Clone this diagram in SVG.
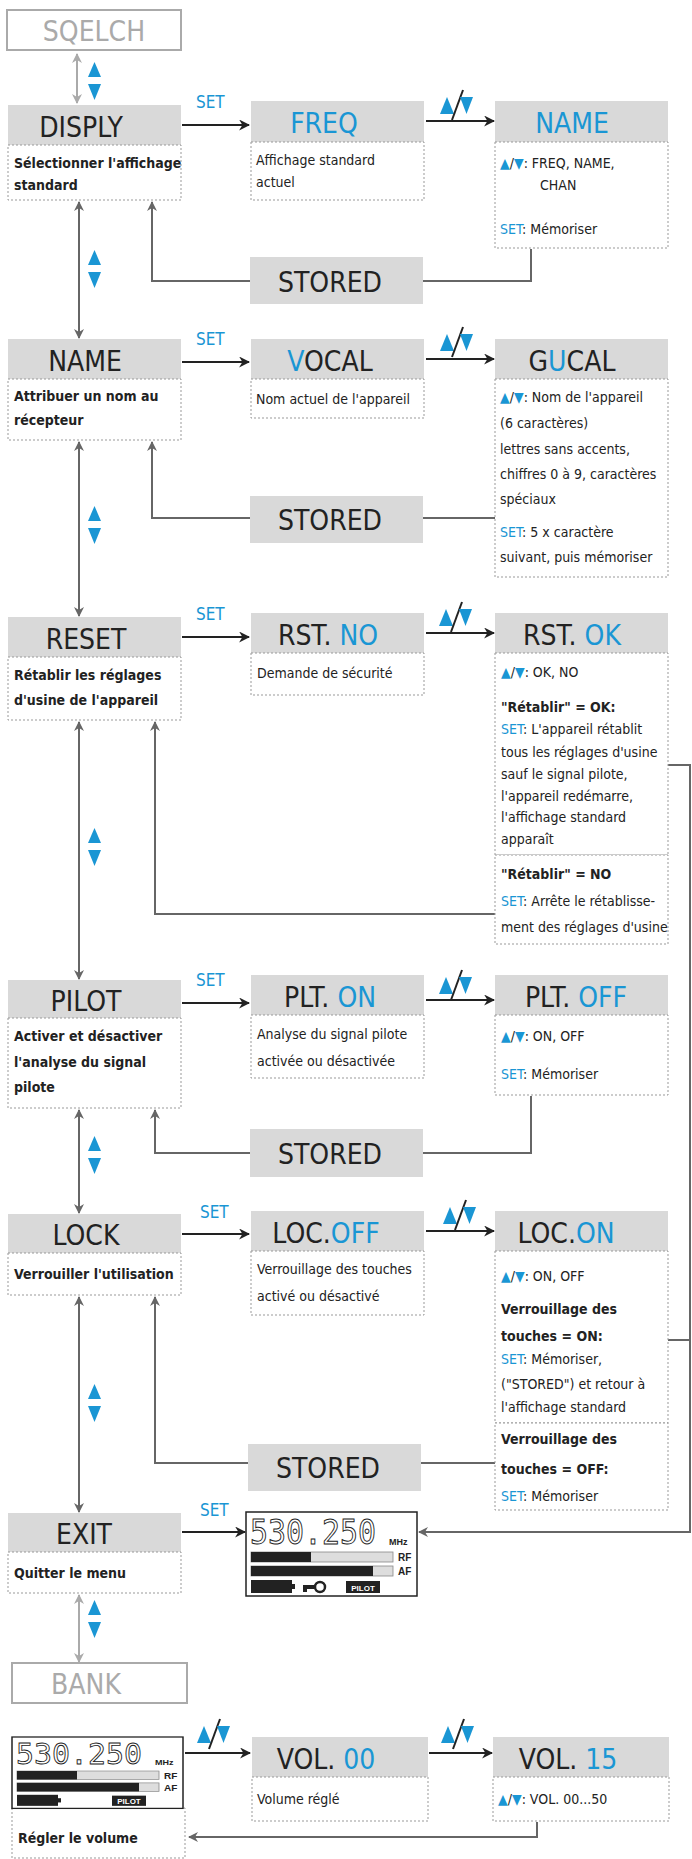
<svg xmlns="http://www.w3.org/2000/svg" width="692" height="1859" viewBox="0 0 692 1859">
<style>
.h{fill:#d9d9d9}
.d{fill:#fff;stroke:#999;stroke-width:1;stroke-dasharray:2 2}
.o{fill:#fff;stroke:#aaa;stroke-width:2}
.ht{font-family:"DejaVu Sans Condensed","Liberation Sans Narrow","Liberation Sans",sans-serif;font-weight:300;font-size:28px;fill:#222;text-anchor:middle}
.gt{fill:#aaa}
.b{fill:#1a96d4}
.t{font-family:"DejaVu Sans Condensed","Liberation Sans Narrow","Liberation Sans",sans-serif;font-size:14px;fill:#222}
.tb{font-weight:bold}
.set{font-family:"DejaVu Sans Condensed","Liberation Sans",sans-serif;font-size:17px;fill:#1a96d4}
.c{fill:none;stroke:#666;stroke-width:2}
.k{fill:none;stroke:#222;stroke-width:2.2}
.cg{fill:none;stroke:#aaa;stroke-width:2}
</style>
<defs>
<marker id="ak" viewBox="0 0 10 10" refX="9" refY="5" markerWidth="5" markerHeight="5" orient="auto"><path d="M0,0 L10,5 L0,10 L3,5z" fill="#222"/></marker>
<marker id="ag" viewBox="0 0 10 10" refX="9" refY="5" markerWidth="5" markerHeight="5" orient="auto-start-reverse"><path d="M0,0 L10,5 L0,10 L3,5z" fill="#666"/></marker>
<marker id="al" viewBox="0 0 10 10" refX="9" refY="5" markerWidth="5" markerHeight="5" orient="auto-start-reverse"><path d="M0,0 L10,5 L0,10 L3,5z" fill="#aaa"/></marker>
<g id="ud"><polygon points="0,15 6.5,0 13,15" fill="#1a96d4"/><polygon points="0,22 13,22 6.5,38" fill="#1a96d4"/></g>
<g id="sl"><polygon points="0,20 7,3 14,20" fill="#1a96d4"/><line x1="12" y1="26" x2="23" y2="-4" stroke="#222" stroke-width="2"/><polygon points="20,3 33,3 26.5,20" fill="#1a96d4"/></g>
<g id="lcd">
<rect x="0" y="0" width="171" height="84" fill="#fff" stroke="#222" stroke-width="1.5"/>
<text x="4" y="32" font-family="DejaVu Sans Mono,monospace" font-size="34" fill="#fff" stroke="#222" stroke-width="1" textLength="126" lengthAdjust="spacingAndGlyphs">530.250</text>
<text x="143" y="33" font-family="Liberation Sans,sans-serif" font-size="9" font-weight="bold" fill="#222">MHz</text>
<rect x="5" y="40" width="142" height="10" fill="#ddd" stroke="#888" stroke-width=".8"/><rect x="5" y="40" width="60" height="10" fill="#222"/>
<rect x="5" y="54" width="142" height="10" fill="#ddd" stroke="#888" stroke-width=".8"/><rect x="5" y="54" width="122" height="10" fill="#222"/>
<text x="152" y="49" font-family="Liberation Sans,sans-serif" font-size="10" font-weight="bold" fill="#222">RF</text>
<text x="152" y="63" font-family="Liberation Sans,sans-serif" font-size="10" font-weight="bold" fill="#222">AF</text>
<rect x="5" y="68" width="41" height="13" fill="#222"/><rect x="46" y="72" width="3" height="5" fill="#222"/>
<rect x="100" y="69" width="34" height="12" fill="#222"/>
<text x="117" y="79" font-family="Liberation Sans,sans-serif" font-size="8" font-weight="bold" fill="#fff" text-anchor="middle">PILOT</text>
</g>
</defs>

<g id="connectors">
<line class="cg" x1="77" y1="54" x2="77" y2="103" marker-start="url(#al)" marker-end="url(#al)"/>
<line class="c" x1="79" y1="202" x2="79" y2="338" marker-start="url(#ag)" marker-end="url(#ag)"/>
<line class="c" x1="79" y1="442" x2="79" y2="616" marker-start="url(#ag)" marker-end="url(#ag)"/>
<line class="c" x1="79" y1="722" x2="79" y2="979" marker-start="url(#ag)" marker-end="url(#ag)"/>
<line class="c" x1="79" y1="1110" x2="79" y2="1213" marker-start="url(#ag)" marker-end="url(#ag)"/>
<line class="c" x1="79" y1="1297" x2="79" y2="1512" marker-start="url(#ag)" marker-end="url(#ag)"/>
<line class="cg" x1="79" y1="1595" x2="79" y2="1662" marker-start="url(#al)" marker-end="url(#al)"/>
<line class="k" x1="182" y1="125" x2="249" y2="125" marker-end="url(#ak)"/>
<line class="k" x1="426" y1="121" x2="494" y2="121" marker-end="url(#ak)"/>
<line class="k" x1="182" y1="362" x2="249" y2="362" marker-end="url(#ak)"/>
<line class="k" x1="426" y1="359" x2="494" y2="359" marker-end="url(#ak)"/>
<line class="k" x1="182" y1="637" x2="249" y2="637" marker-end="url(#ak)"/>
<line class="k" x1="426" y1="633" x2="494" y2="633" marker-end="url(#ak)"/>
<line class="k" x1="182" y1="1003" x2="249" y2="1003" marker-end="url(#ak)"/>
<line class="k" x1="426" y1="1000" x2="494" y2="1000" marker-end="url(#ak)"/>
<line class="k" x1="182" y1="1234" x2="249" y2="1234" marker-end="url(#ak)"/>
<line class="k" x1="426" y1="1231" x2="494" y2="1231" marker-end="url(#ak)"/>
<line class="k" x1="182" y1="1532" x2="245" y2="1532" marker-end="url(#ak)"/>
<line class="k" x1="185" y1="1753" x2="250" y2="1753" marker-end="url(#ak)"/>
<line class="k" x1="429" y1="1753" x2="492" y2="1753" marker-end="url(#ak)"/>
<path class="c" d="M250,281 H152 V202" marker-end="url(#ag)"/>
<path class="c" d="M423,281 H531 V249"/>
<path class="c" d="M250,518 H152 V442" marker-end="url(#ag)"/>
<path class="c" d="M423,518 H495"/>
<path class="c" d="M495,914 H155 V722" marker-end="url(#ag)"/>
<path class="c" d="M250,1153 H155 V1110" marker-end="url(#ag)"/>
<path class="c" d="M423,1153 H531 V1096"/>
<path class="c" d="M248,1463 H155 V1297" marker-end="url(#ag)"/>
<path class="c" d="M421,1463 H495"/>
<path class="c" d="M668,765 H690 V1532 H419" marker-end="url(#ag)"/>
<path class="c" d="M668,1340 H690"/>
<path class="c" d="M537,1822 V1837 H189" marker-end="url(#ag)"/>
</g>

<use href="#ud" x="88" y="62"/>
<use href="#ud" x="88" y="250"/>
<use href="#ud" x="88" y="506"/>
<use href="#ud" x="88" y="828"/>
<use href="#ud" x="88" y="1136"/>
<use href="#ud" x="88" y="1384"/>
<use href="#ud" x="88" y="1600"/>
<g><text class="set" x="196" y="108">SET</text><text class="set" x="196" y="345">SET</text><text class="set" x="196" y="620">SET</text><text class="set" x="196" y="986">SET</text><text class="set" x="200" y="1218">SET</text><text class="set" x="200" y="1516">SET</text></g>
<use href="#sl" x="440" y="94"/>
<use href="#sl" x="440" y="331"/>
<use href="#sl" x="439" y="606"/>
<use href="#sl" x="439" y="974"/>
<use href="#sl" x="443" y="1204"/>
<use href="#sl" x="197" y="1723"/>
<use href="#sl" x="441" y="1723"/>

<g id="sqelch"><rect class="o" x="7" y="10" width="174" height="40"/><text class="ht gt" x="94" y="41">SQELCH</text></g>

<g id="disply"><rect class="h" x="8" y="105" width="173" height="40"/><text class="ht" x="81" y="137">DISPLY</text><rect class="d" x="8" y="145" width="173" height="55"/><text class="t tb" x="14" y="168">Sélectionner l'affichage</text><text class="t tb" x="14" y="190">standard</text></g>
<g id="freq"><rect class="h" x="251" y="101" width="173" height="41"/><text class="ht b" x="324" y="133">FREQ</text><rect class="d" x="251" y="142" width="173" height="58"/><text class="t" x="256" y="165">Affichage standard</text><text class="t" x="256" y="187">actuel</text></g>
<g id="name-opt"><rect class="h" x="495" y="101" width="173" height="41"/><text class="ht b" x="572" y="133">NAME</text><rect class="d" x="495" y="142" width="173" height="106"/>
<text class="t" x="500" y="168"><tspan class="b">▲</tspan>/<tspan class="b">▼</tspan>: FREQ, NAME,</text><text class="t" x="540" y="190">CHAN</text><text class="t" x="500" y="234"><tspan class="b">SET</tspan>: Mémoriser</text></g>
<g id="stored1"><rect class="h" x="250" y="257" width="173" height="47"/><text class="ht" x="330" y="292">STORED</text></g>

<g id="name"><rect class="h" x="8" y="339" width="173" height="40"/><text class="ht" x="85" y="371">NAME</text><rect class="d" x="8" y="379" width="173" height="61"/><text class="t tb" x="14" y="401">Attribuer un nom au</text><text class="t tb" x="14" y="425">récepteur</text></g>
<g id="vocal"><rect class="h" x="251" y="339" width="173" height="40"/><text class="ht" x="330" y="371"><tspan class="b">V</tspan>OCAL</text><rect class="d" x="251" y="379" width="173" height="39"/><text class="t" x="256" y="404">Nom actuel de l'appareil</text></g>
<g id="gucal"><rect class="h" x="495" y="339" width="173" height="40"/><text class="ht" x="572" y="371">G<tspan class="b">U</tspan>CAL</text><rect class="d" x="495" y="379" width="173" height="198"/>
<text class="t" x="500" y="402"><tspan class="b">▲</tspan>/<tspan class="b">▼</tspan>: Nom de l'appareil</text><text class="t" x="500" y="428">(6 caractères)</text><text class="t" x="500" y="454">lettres sans accents,</text><text class="t" x="500" y="479">chiffres 0 à 9, caractères</text><text class="t" x="500" y="504">spéciaux</text><text class="t" x="500" y="537"><tspan class="b">SET</tspan>: 5 x caractère</text><text class="t" x="500" y="562">suivant, puis mémoriser</text></g>
<g id="stored2"><rect class="h" x="250" y="496" width="173" height="47"/><text class="ht" x="330" y="530">STORED</text></g>

<g id="reset"><rect class="h" x="8" y="617" width="173" height="40"/><text class="ht" x="86" y="649">RESET</text><rect class="d" x="8" y="657" width="173" height="63"/><text class="t tb" x="14" y="680">Rétablir les réglages</text><text class="t tb" x="14" y="705">d'usine de l'appareil</text></g>
<g id="rstno"><rect class="h" x="251" y="613" width="173" height="40"/><text class="ht" x="328" y="645">RST. <tspan class="b">NO</tspan></text><rect class="d" x="251" y="653" width="173" height="42"/><text class="t" x="257" y="678">Demande de sécurité</text></g>
<g id="rstok"><rect class="h" x="495" y="613" width="173" height="40"/><text class="ht" x="572" y="645">RST. <tspan class="b">OK</tspan></text><rect class="d" x="495" y="653" width="173" height="202"/><rect class="d" x="495" y="855" width="173" height="89"/>
<text class="t" x="501" y="677"><tspan class="b">▲</tspan>/<tspan class="b">▼</tspan>: OK, NO</text><text class="t tb" x="501" y="712">"Rétablir" = OK:</text><text class="t" x="501" y="734"><tspan class="b">SET</tspan>: L'appareil rétablit</text><text class="t" x="501" y="757">tous les réglages d'usine</text><text class="t" x="501" y="779">sauf le signal pilote,</text><text class="t" x="501" y="801">l'appareil redémarre,</text><text class="t" x="501" y="822">l'affichage standard</text><text class="t" x="501" y="844">apparaît</text>
<text class="t tb" x="501" y="879">"Rétablir" = NO</text><text class="t" x="501" y="906"><tspan class="b">SET</tspan>:  Arrête le rétablisse-</text><text class="t" x="501" y="932">ment des réglages d'usine</text></g>

<g id="pilot"><rect class="h" x="8" y="980" width="173" height="38"/><text class="ht" x="86" y="1011">PILOT</text><rect class="d" x="8" y="1018" width="173" height="90"/><text class="t tb" x="14" y="1041">Activer et désactiver</text><text class="t tb" x="14" y="1067">l'analyse du signal</text><text class="t tb" x="14" y="1092">pilote</text></g>
<g id="plton"><rect class="h" x="251" y="975" width="173" height="40"/><text class="ht" x="330" y="1007">PLT.  <tspan class="b">ON</tspan></text><rect class="d" x="251" y="1015" width="173" height="63"/><text class="t" x="257" y="1039">Analyse du signal pilote</text><text class="t" x="257" y="1066">activée ou désactivée</text></g>
<g id="pltoff"><rect class="h" x="495" y="975" width="173" height="40"/><text class="ht" x="576" y="1007">PLT.  <tspan class="b">OFF</tspan></text><rect class="d" x="495" y="1015" width="173" height="80"/><text class="t" x="501" y="1041"><tspan class="b">▲</tspan>/<tspan class="b">▼</tspan>: ON, OFF</text><text class="t" x="501" y="1079"><tspan class="b">SET</tspan>: Mémoriser</text></g>
<g id="stored3"><rect class="h" x="250" y="1129" width="173" height="48"/><text class="ht" x="330" y="1164">STORED</text></g>

<g id="lock"><rect class="h" x="8" y="1214" width="173" height="39"/><text class="ht" x="86" y="1245">LOCK</text><rect class="d" x="8" y="1253" width="173" height="42"/><text class="t tb" x="14" y="1279">Verrouiller l'utilisation</text></g>
<g id="locoff"><rect class="h" x="251" y="1211" width="173" height="40"/><text class="ht" x="326" y="1243">LOC.<tspan class="b">OFF</tspan></text><rect class="d" x="251" y="1251" width="173" height="64"/><text class="t" x="257" y="1274">Verrouillage des touches</text><text class="t" x="257" y="1301">activé ou désactivé</text></g>
<g id="locon"><rect class="h" x="495" y="1211" width="173" height="40"/><text class="ht" x="566" y="1243">LOC.<tspan class="b">ON</tspan></text><rect class="d" x="495" y="1251" width="173" height="172"/><rect class="d" x="495" y="1423" width="173" height="87"/>
<text class="t" x="501" y="1281"><tspan class="b">▲</tspan>/<tspan class="b">▼</tspan>: ON, OFF</text><text class="t tb" x="501" y="1314">Verrouillage des</text><text class="t tb" x="501" y="1341">touches = ON:</text><text class="t" x="501" y="1364"><tspan class="b">SET</tspan>: Mémoriser,</text><text class="t" x="501" y="1389">("STORED") et retour à</text><text class="t" x="501" y="1412">l'affichage standard</text>
<text class="t tb" x="501" y="1444">Verrouillage des</text><text class="t tb" x="501" y="1474">touches = OFF:</text><text class="t" x="501" y="1501"><tspan class="b">SET</tspan>: Mémoriser</text></g>
<g id="stored4"><rect class="h" x="248" y="1444" width="173" height="47"/><text class="ht" x="328" y="1478">STORED</text></g>

<g id="exit"><rect class="h" x="8" y="1513" width="173" height="39"/><text class="ht" x="84" y="1544">EXIT</text><rect class="d" x="8" y="1552" width="173" height="41"/><text class="t tb" x="14" y="1578">Quitter le menu</text></g>
<g id="lcd1"><use href="#lcd" x="246" y="1512"/>
<rect x="303" y="1585" width="11" height="4" fill="#222"/><rect x="303" y="1585" width="4" height="7" fill="#222"/><circle cx="320" cy="1587" r="5" fill="none" stroke="#222" stroke-width="2.5"/></g>
<g id="bank"><rect class="o" x="12" y="1663" width="175" height="40"/><text class="ht gt" x="86" y="1694">BANK</text></g>

<g id="lcd2"><rect class="d" x="12" y="1808" width="173" height="50"/><use href="#lcd" transform="translate(12,1737) scale(1,0.85)"/><text class="t tb" x="18" y="1843">Régler le volume</text></g>
<g id="vol00"><rect class="h" x="252" y="1737" width="176" height="40"/><text class="ht" x="326" y="1769">VOL.  <tspan class="b">00</tspan></text><rect class="d" x="252" y="1777" width="176" height="44"/><text class="t" x="257" y="1804">Volume réglé</text></g>
<g id="vol15"><rect class="h" x="493" y="1737" width="176" height="40"/><text class="ht" x="568" y="1769">VOL.  <tspan class="b">15</tspan></text><rect class="d" x="493" y="1777" width="176" height="44"/><text class="t" x="498" y="1804"><tspan class="b">▲</tspan>/<tspan class="b">▼</tspan>: VOL. 00...50</text></g>
</svg>
